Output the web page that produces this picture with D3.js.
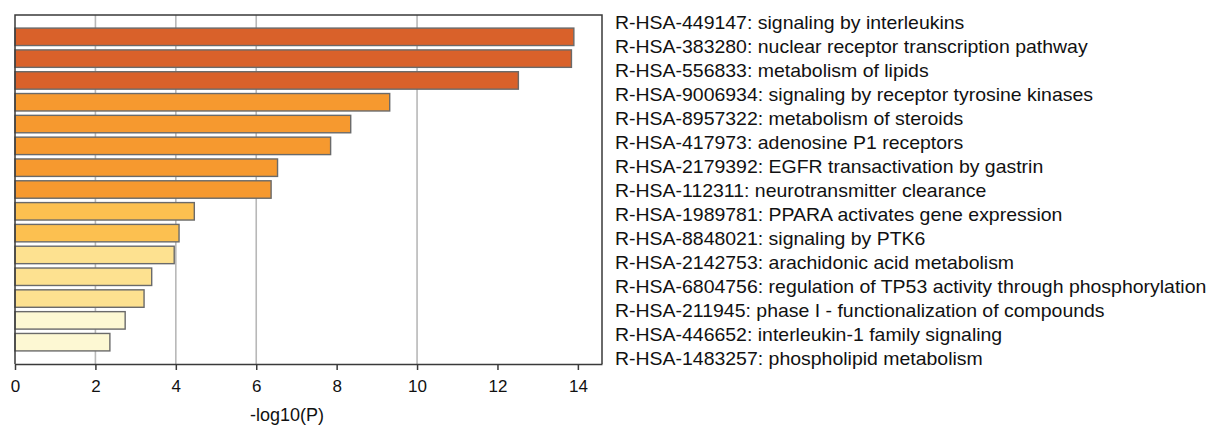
<!DOCTYPE html>
<html>
<head>
<meta charset="utf-8">
<script src="https://cdn.jsdelivr.net/npm/d3@7"></script>
<style>
  html, body { margin: 0; padding: 0; background: #fff; }
  svg { display: block; font-family: "Liberation Sans", Arial, sans-serif; }
</style>
</head>
<body>
<svg id="chart" width="1217" height="427"></svg>
<script>
const termIds = ["R-HSA-449147","R-HSA-383280","R-HSA-556833","R-HSA-9006934","R-HSA-8957322",
  "R-HSA-417973","R-HSA-2179392","R-HSA-112311","R-HSA-1989781","R-HSA-8848021",
  "R-HSA-2142753","R-HSA-6804756","R-HSA-211945","R-HSA-446652","R-HSA-1483257"];
const termNames = ["signaling by interleukins","nuclear receptor transcription pathway","metabolism of lipids",
  "signaling by receptor tyrosine kinases","metabolism of steroids","adenosine P1 receptors",
  "EGFR transactivation by gastrin","neurotransmitter clearance","PPARA activates gene expression",
  "signaling by PTK6","arachidonic acid metabolism","regulation of TP53 activity through phosphorylation",
  "phase I - functionalization of compounds","interleukin-1 family signaling","phospholipid metabolism"];
const values = [13.9, 13.84, 12.52, 9.32, 8.35, 7.85, 6.53, 6.37, 4.46, 4.08, 3.96, 3.40, 3.21, 2.74, 2.36];
const colorGroup = [0,0,0,1,1,1,1,1,2,2,3,3,3,4,4];
const palette = ["#D9612A","#F6992F","#FCC050","#FDE190","#FDF8D3"];
const xTicks = [0,2,4,6,8,10,12,14];
const gridValues = [2,4,6,10];
const xMax = 14.6;
const axisTitle = "-log10(P)";

(function () {
const svg = d3.select("#chart");
const pLeft = 15, pRight = 602, pTop = 15, pBottom = 364;

const x = d3.scaleLinear().domain([0, xMax]).range([pLeft, pRight]);
const y = d3.scaleBand().domain(termIds).range([pTop, pBottom]).paddingInner(0.2).paddingOuter(0.6);
const yLab = d3.scalePoint().domain(termIds).range([28.5, 364.5]);

// gridlines
svg.append("g").selectAll("line").data(gridValues).join("line")
  .attr("x1", d => x(d)).attr("x2", d => x(d))
  .attr("y1", pTop).attr("y2", pBottom)
  .attr("stroke", "#b8b8b8").attr("stroke-width", 1.6);

// bars
svg.append("g").selectAll("rect").data(termIds).join("rect")
  .attr("x", x(0))
  .attr("y", d => y(d))
  .attr("width", (d, i) => x(values[i]) - x(0))
  .attr("height", y.bandwidth())
  .attr("fill", (d, i) => palette[colorGroup[i]])
  .attr("stroke", "#6a6a6a").attr("stroke-width", 1.4);

// frame (top, left, right)
svg.append("path")
  .attr("d", `M${pLeft},${pBottom}V${pTop}H${pRight}V${pBottom}`)
  .attr("fill", "none").attr("stroke", "#3a3a3a").attr("stroke-width", 1.5);

// bottom axis
const axis = svg.append("g").attr("transform", `translate(0,${pBottom})`)
  .call(d3.axisBottom(x).tickValues(xTicks).tickFormat(d3.format("d")).tickSize(6).tickSizeOuter(0).tickPadding(10));
axis.select(".domain").attr("stroke", "#3a3a3a").attr("stroke-width", 1.5);
axis.selectAll(".tick line").attr("stroke", "#3a3a3a").attr("stroke-width", 1.5);
axis.selectAll(".tick text").attr("font-size", 17).attr("fill", "#111")
  .attr("font-family", "'Liberation Sans', Arial, sans-serif");

// axis title
svg.append("text").attr("x", 287).attr("y", 421).attr("text-anchor", "middle")
  .attr("font-size", 18).attr("fill", "#111").text(axisTitle);

// term labels
svg.append("g").selectAll("text").data(termIds).join("text")
  .attr("transform", d => `translate(615,${yLab(d)}) scale(1.1,1)`)
  .attr("font-size", 17.7).attr("fill", "#111")
  .text((d, i) => `${d}: ${termNames[i]}`);
})();
</script>
</body>
</html>
